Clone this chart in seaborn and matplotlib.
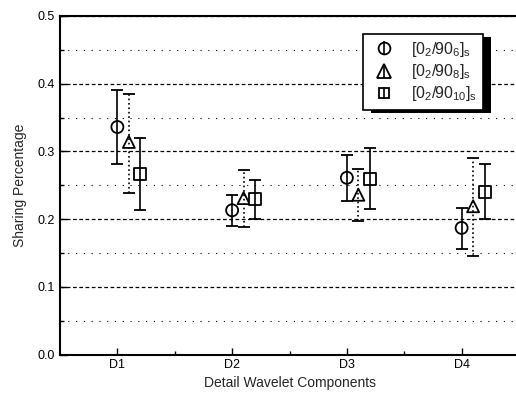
import numpy as np
import pandas as pd
import matplotlib
matplotlib.use("Agg")
import matplotlib.pyplot as plt
import seaborn as sns
from matplotlib.patches import Rectangle
from matplotlib.ticker import MultipleLocator, FixedLocator, FormatStrFormatter
from matplotlib.lines import Line2D

categories = ["D1", "D2", "D3", "D4"]
series_labels = [r"$[0_2/90_6]_s$", r"$[0_2/90_8]_s$", r"$[0_2/90_{10}]_s$"]
mean_6 = [0.336, 0.213, 0.261, 0.187]
lo_6 = [0.282, 0.190, 0.227, 0.156]
hi_6 = [0.390, 0.235, 0.294, 0.217]
mean_8 = [0.314, 0.231, 0.236, 0.219]
lo_8 = [0.239, 0.188, 0.197, 0.146]
hi_8 = [0.385, 0.272, 0.274, 0.290]
mean_10 = [0.266, 0.229, 0.259, 0.240]
lo_10 = [0.213, 0.200, 0.215, 0.200]
hi_10 = [0.320, 0.258, 0.305, 0.282]

sns.set_theme(style="ticks")
plt.rcParams["font.family"] = ["Liberation Sans", "DejaVu Sans"]
plt.rcParams["mathtext.fontset"] = "custom"
plt.rcParams["mathtext.rm"] = "Liberation Sans"
plt.rcParams["mathtext.it"] = "Liberation Sans"

rows = []
for lab, m, lo, hi in zip(series_labels, [mean_6, mean_8, mean_10],
                          [lo_6, lo_8, lo_10], [hi_6, hi_8, hi_10]):
    for i, c in enumerate(categories):
        rows.append(dict(series=lab, cat=c, idx=i + 1, mean=m[i], lo=lo[i], hi=hi[i]))
df = pd.DataFrame(rows)
offsets = {series_labels[0]: 0.0, series_labels[1]: 0.1, series_labels[2]: 0.2}
df["x"] = df["idx"] + df["series"].map(offsets)

fig = plt.figure(figsize=(5.16, 3.98), dpi=100)
ax = fig.add_axes([60 / 516, (398 - 354.5) / 398, 459 / 516, 338.5 / 398])

markers = {series_labels[0]: "o", series_labels[1]: "^", series_labels[2]: "s"}
sizes = {series_labels[0]: 8.5, series_labels[1]: 9.5, series_labels[2]: 7.5}
bar_styles = {series_labels[0]: "-", series_labels[1]: ":", series_labels[2]: "-"}

sns.scatterplot(data=df, x="x", y="mean", style="series", markers=markers,
                hue="series", palette=["black"] * 3, ax=ax, legend=False,
                s=75, linewidth=1.3, zorder=4)
for coll in ax.collections:
    coll.set_facecolor("white")
    coll.set_edgecolor("black")

for lab in series_labels:
    d = df[df["series"] == lab]
    eb = ax.errorbar(d["x"], d["mean"], yerr=[d["mean"] - d["lo"], d["hi"] - d["mean"]],
                     fmt="none", ecolor="black", elinewidth=1.2, capsize=4.3,
                     capthick=1.3, zorder=5)
    eb[2][0].set_linestyle(bar_styles[lab])

handles = []
for l in series_labels:
    mk = Line2D([], [], marker=markers[l], linestyle="none", markersize=sizes[l],
                markerfacecolor="white", markeredgecolor="black", markeredgewidth=1.3)
    vl = Line2D([], [], marker="|", linestyle="none", markersize=sizes[l] + 1,
                markeredgecolor="black", markeredgewidth=1.2)
    handles.append((mk, vl))
leg = ax.legend(handles, series_labels, loc="upper left", bbox_to_anchor=(0.66, 0.948),
                borderaxespad=0, frameon=True, fancybox=False, edgecolor="black",
                fontsize=11.5, handletextpad=0.8, borderpad=0.4, labelspacing=0.2,
                handlelength=1.8, framealpha=1)
leg.get_frame().set_linewidth(1.2)
leg.set_zorder(6)

ax.set_xlim(0.5, 4.5)
ax.set_ylim(0.0, 0.5)
ax.set_xticks([1, 2, 3, 4])
ax.set_xticklabels(categories)
ax.xaxis.set_minor_locator(FixedLocator([1.5, 2.5, 3.5]))
ax.yaxis.set_major_locator(MultipleLocator(0.1))
ax.yaxis.set_minor_locator(MultipleLocator(0.05))
ax.yaxis.set_major_formatter(FormatStrFormatter("%.1f"))
ax.tick_params(axis="both", which="both", direction="in", labelsize=9, colors="black")
ax.tick_params(axis="both", which="major", length=5, width=1)
ax.tick_params(axis="both", which="minor", length=3, width=1)
ax.tick_params(axis="x", which="both", top=False)
ax.tick_params(axis="y", which="both", right=False)

ax.grid(which="major", axis="y", linestyle=(0, (3, 2)), color="black", linewidth=0.9)
ax.grid(which="minor", axis="y", linestyle=(0, (1, 6)), color="black", linewidth=0.8)
ax.set_axisbelow(True)

for s in ["top", "left", "bottom"]:
    ax.spines[s].set_color("black")
    ax.spines[s].set_linewidth(1.5)
ax.spines["right"].set_visible(False)

ax.set_xlabel("Detail Wavelet Components", fontsize=10, labelpad=3)
ax.set_ylabel("Sharing Percentage", fontsize=10, labelpad=8)

fig.canvas.draw()
bb = leg.get_window_extent()
shadow = Rectangle((bb.x0 + 8, bb.y0 - 3), bb.width, bb.height, transform=None,
                   facecolor="black", edgecolor="none", zorder=5.5, clip_on=False)
ax.add_artist(shadow)

fig.savefig("out.png", dpi=100)
